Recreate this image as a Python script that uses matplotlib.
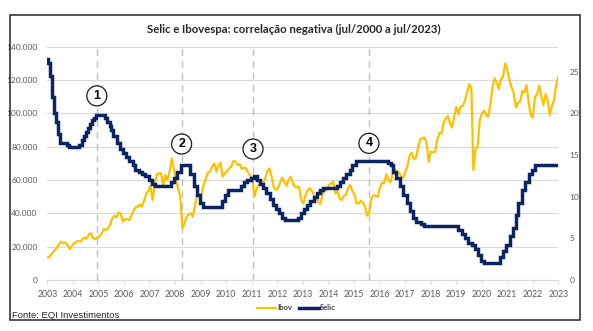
import matplotlib
matplotlib.use("Agg")
import matplotlib.pyplot as plt
from matplotlib.patches import Rectangle
import pandas as pd
import numpy as np

# ---------------- data ----------------
title = "Selic e Ibovespa: correlação negativa (jul/2000 a jul/2023)"
source = "Fonte: EQI Investimentos"
year_labels = [str(y) for y in range(2003, 2024)]
left_ticks = [0, 20000, 40000, 60000, 80000, 100000, 120000, 140000]
left_tick_labels = ["0", "20.000", "40.000", "60.000", "80.000", "100.000", "120.000", "140.000"]
right_ticks = [0, 5, 10, 15, 20, 25]

# Ibovespa, monthly (Jun/2003 .. Jul/2023)
ibov_start = "2003-06-01"
ibov_values = [
    13200, 13600, 14800, 16400, 17800, 19500, 21500,                                   # 2003
    23000, 22000, 22500, 21000, 18500, 20500, 22000, 22800, 23500, 23000, 24500, 25500, # 2004
    25000, 27500, 28000, 25000, 24500, 25500, 26000, 28000, 30500, 30000, 31000, 33000, # 2005
    37000, 38500, 37500, 40500, 40000, 35000, 36500, 36500, 36000, 38500, 41500, 43500, # 2006
    44000, 45500, 44000, 47500, 51500, 53500, 56500, 48000, 57500, 63500, 64000, 64000, # 2007
    57000, 63000, 60000, 65000, 73000, 67000, 60000, 55000, 50000, 31000, 34000, 38000, # 2008
    39500, 40000, 38000, 45000, 51000, 51500, 51000, 57000, 60500, 64500, 65000, 68000, # 2009
    70000, 65000, 69000, 70500, 62000, 64000, 65000, 67000, 68000, 71500, 71000, 69000, # 2010
    69500, 66500, 67500, 67000, 64500, 62500, 60000, 50000, 55000, 57000, 57500, 57500, # 2011
    61000, 65500, 67000, 62000, 56000, 54000, 55000, 58500, 61500, 59000, 56500, 60000, # 2012
    62000, 58000, 56000, 55500, 56000, 48000, 46000, 51000, 54000, 55000, 53500, 51000, # 2013
    49000, 47000, 45500, 51500, 53500, 54000, 57000, 58000, 59000, 52000, 53500, 49000, # 2014
    48000, 50500, 51000, 55000, 57000, 53500, 51500, 46000, 46000, 47500, 46500, 44000, # 2015
    38500, 41500, 49000, 51000, 50500, 50000, 55500, 58500, 58000, 63500, 60000, 58500, # 2016
    64000, 67000, 64500, 64500, 62000, 61500, 65000, 68500, 74500, 76500, 72500, 73500, # 2017
    80000, 84500, 85000, 85500, 82000, 71000, 77000, 76500, 77000, 84000, 88500, 88000, # 2018
    94500, 97000, 98500, 94000, 91500, 98500, 104000, 99500, 104000, 104500, 107500, 112500, # 2019
    117500, 115500, 66000, 78500, 80000, 96000, 100000, 101500, 99000, 98000, 106000, 116000, # 2020
    121000, 118500, 114500, 120500, 122000, 130000, 126000, 120000, 115500, 112000, 103500, 106500, # 2021
    107000, 113500, 112500, 117000, 107000, 99000, 97500, 110000, 111500, 116500, 110000, 105000, # 2022
    111500, 107500, 99000, 104500, 108000, 117000, 122000,                             # 2023
]

# Selic target rate: decision dates and new rate (% a.a.)
selic_dates = [
    "2003-06-01", "2003-06-18", "2003-07-23", "2003-08-20", "2003-09-17", "2003-10-22", "2003-11-19", "2003-12-17",
    "2004-03-17", "2004-04-14", "2004-09-15", "2004-10-20", "2004-11-17", "2004-12-15",
    "2005-01-19", "2005-02-16", "2005-03-16", "2005-04-20", "2005-05-18", "2005-09-14", "2005-10-19", "2005-11-23", "2005-12-14",
    "2006-01-18", "2006-03-08", "2006-04-19", "2006-05-31", "2006-07-19", "2006-08-30", "2006-10-18", "2006-11-29",
    "2007-01-24", "2007-03-07", "2007-04-18", "2007-06-06", "2007-07-18", "2007-09-05",
    "2008-04-16", "2008-06-04", "2008-07-23", "2008-09-10",
    "2009-01-21", "2009-03-11", "2009-04-29", "2009-06-10", "2009-07-22",
    "2010-04-28", "2010-06-09", "2010-07-21",
    "2011-01-19", "2011-03-02", "2011-04-20", "2011-06-08", "2011-07-20", "2011-08-31", "2011-10-19", "2011-11-30",
    "2012-01-18", "2012-03-07", "2012-04-18", "2012-05-30", "2012-07-11", "2012-08-29", "2012-10-10",
    "2013-04-17", "2013-05-29", "2013-07-10", "2013-08-28", "2013-10-09", "2013-11-27",
    "2014-01-15", "2014-02-26", "2014-04-02", "2014-10-29", "2014-12-03",
    "2015-01-21", "2015-03-04", "2015-04-29", "2015-06-03", "2015-07-29",
    "2016-10-19", "2016-11-30",
    "2017-01-11", "2017-02-22", "2017-04-12", "2017-05-31", "2017-07-26", "2017-09-06", "2017-10-25", "2017-12-06",
    "2018-02-07", "2018-03-21",
    "2019-07-31", "2019-09-18", "2019-10-30", "2019-12-11",
    "2020-02-05", "2020-03-18", "2020-05-06", "2020-06-17", "2020-08-05",
    "2021-03-17", "2021-05-05", "2021-06-16", "2021-08-04", "2021-09-22", "2021-10-27", "2021-12-08",
    "2022-02-02", "2022-03-16", "2022-05-04", "2022-06-15", "2022-08-03",
    "2023-07-10",
]
selic_values = [
    26.5, 26.0, 24.5, 22.0, 20.0, 19.0, 17.5, 16.5,
    16.25, 16.0, 16.25, 16.75, 17.25, 17.75,
    18.25, 18.75, 19.25, 19.5, 19.75, 19.5, 19.0, 18.5, 18.0,
    17.25, 16.5, 15.75, 15.25, 14.75, 14.25, 13.75, 13.25,
    13.0, 12.75, 12.5, 12.0, 11.5, 11.25,
    11.75, 12.25, 13.0, 13.75,
    12.75, 11.25, 10.25, 9.25, 8.75,
    9.5, 10.25, 10.75,
    11.25, 11.75, 12.0, 12.25, 12.5, 12.0, 11.5, 11.0,
    10.5, 9.75, 9.0, 8.5, 8.0, 7.5, 7.25,
    7.5, 8.0, 8.5, 9.0, 9.5, 10.0,
    10.5, 10.75, 11.0, 11.25, 11.75,
    12.25, 12.75, 13.25, 13.75, 14.25,
    14.0, 13.75,
    13.0, 12.25, 11.25, 10.25, 9.25, 8.25, 7.5, 7.0,
    6.75, 6.5,
    6.0, 5.5, 5.0, 4.5,
    4.25, 3.75, 3.0, 2.25, 2.0,
    2.75, 3.5, 4.25, 5.25, 6.25, 7.75, 9.25,
    10.75, 11.75, 12.75, 13.25, 13.75,
    13.75,
]

# marked episodes (real dates) and their labels
marker_dates = ["2005-05-25", "2008-09-20", "2011-07-10", "2016-01-26"]
marker_labels = ["1", "2", "3", "4"]
marker_levels = [110500, 81600, 78600, 82000]

# ---------------- helpers ----------------
def dec_year(d):
    d = pd.Timestamp(d)
    return d.year + (d.dayofyear - 1) / 365.25

ibov_dates = pd.date_range(ibov_start, periods=len(ibov_values), freq="MS")
ibov_x = [dec_year(d) for d in ibov_dates]
selic_x = [dec_year(d) for d in selic_dates]
marker_x = [dec_year(d) for d in marker_dates]

# axis runs from the first to the last sample; the year labels sit evenly along it
x_start = dec_year("2003-06-15")
x_end = ibov_x[-1]
x_step = (x_end - x_start) / (len(year_labels) - 1)

# ---------------- figure ----------------
W, H = 593, 331
fig = plt.figure(figsize=(W / 100, H / 100), dpi=100)
fig.patch.set_facecolor("white")

def fx(px):
    return px / W

def fy(py):
    return 1 - py / H

# outer frame
fig.patches.append(Rectangle((fx(10), fy(320)), fx(580) - fx(10), fy(15) - fy(320),
                             transform=fig.transFigure, fill=False, edgecolor="#262626", lw=1.1))

ax = fig.add_axes([fx(47.3), fy(280), fx(558.3) - fx(47.3), fy(46.7) - fy(280)])
ax2 = ax.twinx()

grey_txt = "#595959"
tick_font = "Lato"

ax.set_xlim(x_start, x_end)
ax.set_ylim(0, 140000)
ax2.set_ylim(0, 28)

ax.set_yticks(left_ticks)
ax.set_yticklabels(left_tick_labels, fontsize=6, color=grey_txt, family=tick_font)
ax.set_xticks([x_start + i * x_step for i in range(len(year_labels))])
ax.set_xticklabels(year_labels, fontsize=6.3, color=grey_txt, family=tick_font)
ax2.set_yticks(right_ticks)
ax2.set_yticklabels([str(t) for t in right_ticks], fontsize=6, color=grey_txt, family=tick_font)

ax.grid(axis="y", color="#D9D9D9", lw=0.8)
ax.set_axisbelow(True)
for a in (ax, ax2):
    for s in ("top", "right", "left"):
        a.spines[s].set_visible(False)
ax2.spines["bottom"].set_visible(False)
ax.spines["bottom"].set_color("#D9D9D9")
ax.spines["bottom"].set_linewidth(0.8)
ax.tick_params(axis="x", length=3, color="#D9D9D9", width=0.8, pad=4)
ax.tick_params(axis="y", length=0, pad=7)
ax2.tick_params(axis="y", length=0, pad=8)

# dashed markers
for xv in marker_x:
    ax.axvline(xv, color="#BFBFBF", lw=1.0, ls=(0, (5, 3.5)), zorder=1)

ax.plot(ibov_x, ibov_values, color="#FFC000", lw=1.6, zorder=3, label="Ibov")
ax2.plot(selic_x, selic_values, color="#0B2463", lw=2.5, drawstyle="steps-post",
         solid_joinstyle="miter", zorder=4, label="Selic")

for xv, yv, lab in zip(marker_x, marker_levels, marker_labels):
    ax2.text(xv, yv, lab, transform=ax.transData, ha="center", va="center",
             fontsize=9, fontweight="bold", family="Liberation Sans", zorder=10,
             bbox=dict(boxstyle="circle,pad=0.32", fc="white", ec="#1a1a1a", lw=0.9))

# title
fig.text(fx(294), fy(29), title, ha="center", va="center", fontsize=8.2,
         fontweight="bold", family="Lato", color="#262626")

# legend
h1, l1 = ax.get_legend_handles_labels()
h2, l2 = ax2.get_legend_handles_labels()
leg = fig.legend(h1 + h2, l1 + l2, loc="center", bbox_to_anchor=(fx(296), fy(308)),
                 ncol=2, frameon=False, handlelength=2.6, handletextpad=0.15,
                 columnspacing=0.8, prop=dict(family="Lato", weight="bold", size=5.5))
for t in leg.get_texts():
    t.set_color("#404040")

# source
fig.text(fx(12), fy(315), source, ha="left", va="center", fontsize=6.8,
         family="Liberation Sans", color="#262626")

fig.savefig("out.png", dpi=100)
